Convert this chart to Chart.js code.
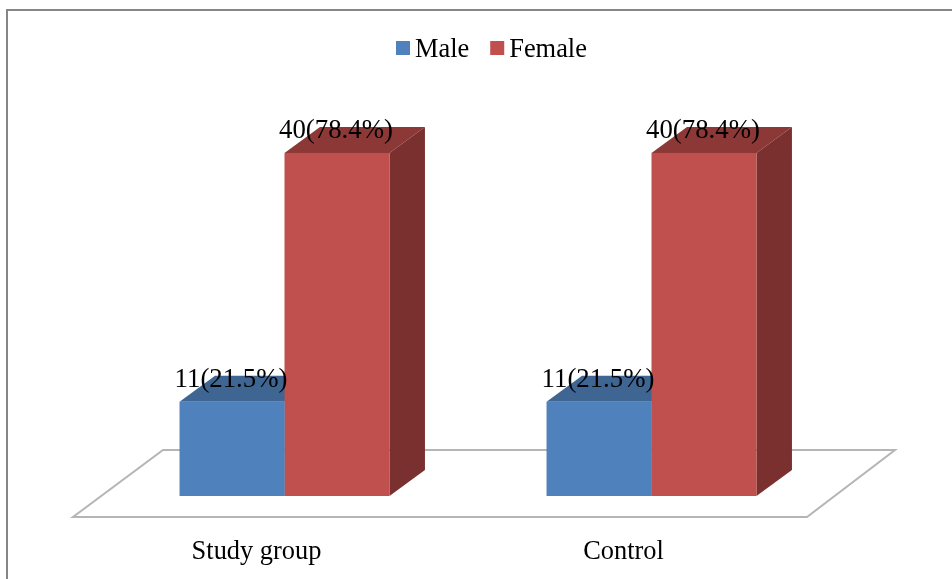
<!DOCTYPE html>
<html>
<head>
<meta charset="utf-8">
<title>Study group and control by sex</title>
<script src="https://cdn.jsdelivr.net/npm/chart.js@4"></script>
<style>
  html, body { margin: 0; padding: 0; background: #fff; }
  canvas { display: block; filter: blur(0.5px); }
</style>
</head>
<body>
<canvas id="chart" width="952" height="579"></canvas>
<script>
const categories = ['Study group', 'Control'];
const maleValues = [11, 11];
const femaleValues = [40, 40];
const malePercents = ['21.5', '21.5'];
const femalePercents = ['78.4', '78.4'];

const fontName = '"Liberation Serif", "Times New Roman", serif';
const depthX = 35.5;
const depthY = 26;

function face(ctx, points, color) {
  ctx.fillStyle = color;
  ctx.beginPath();
  points.forEach((p, i) => i ? ctx.lineTo(p[0], p[1]) : ctx.moveTo(p[0], p[1]));
  ctx.closePath();
  ctx.fill();
}

// the library has no 3D bars, so the top and side faces hang off each bar element
const bars3d = {
  id: 'bars3d',
  beforeDatasetsDraw(chart) {
    const ctx = chart.ctx;
    const area = chart.chartArea;
    const back = area.bottom - 46;
    const front = area.bottom + 21;

    ctx.save();
    ctx.strokeStyle = '#b5b5b5';
    ctx.lineWidth = 2;
    ctx.beginPath();
    ctx.moveTo(area.left - 28, front);
    ctx.lineTo(area.right - 28, front);
    ctx.lineTo(area.right + 60, back);
    ctx.lineTo(area.left + 62, back);
    ctx.closePath();
    ctx.stroke();

    chart.data.datasets.forEach((ds, i) => {
      chart.getDatasetMeta(i).data.forEach(bar => {
        const left = bar.x - bar.width / 2;
        const right = bar.x + bar.width / 2;
        face(ctx, [[left, bar.y], [right, bar.y], [right + depthX, bar.y - depthY], [left + depthX, bar.y - depthY]], ds.topColor);
        face(ctx, [[right, bar.y], [right + depthX, bar.y - depthY], [right + depthX, bar.base - depthY], [right, bar.base]], ds.sideColor);
      });
    });
    ctx.restore();
  },
  afterDatasetsDraw(chart) {
    const ctx = chart.ctx;
    ctx.save();
    ctx.font = '26.8px ' + fontName;
    ctx.fillStyle = '#000';
    ctx.textAlign = 'center';
    ctx.textBaseline = 'alphabetic';
    chart.data.datasets.forEach((ds, i) => {
      chart.getDatasetMeta(i).data.forEach((bar, j) => {
        ctx.fillText(ds.data[j] + '(' + ds.percents[j] + '%)', bar.x - 1, bar.y - 15);
      });
    });
    ctx.restore();
  }
};

// legend drawn here because the built-in one keeps half a font size between box and text
const tightLegend = {
  id: 'tightLegend',
  afterDraw(chart) {
    const ctx = chart.ctx;
    ctx.save();
    ctx.font = '26.4px ' + fontName;
    ctx.textBaseline = 'alphabetic';
    let x = 396;
    chart.data.datasets.forEach(ds => {
      ctx.fillStyle = ds.backgroundColor;
      ctx.fillRect(x, 41, 14, 14);
      ctx.fillStyle = '#000';
      ctx.fillText(ds.label, x + 19, 57);
      x += 19 + ctx.measureText(ds.label).width + 21;
    });
    ctx.restore();
  }
};

const frame = {
  id: 'frame',
  beforeDraw(chart) {
    const ctx = chart.ctx;
    ctx.save();
    ctx.strokeStyle = '#868686';
    ctx.lineWidth = 2;
    ctx.beginPath();
    ctx.moveTo(7, 579);
    ctx.lineTo(7, 10);
    ctx.lineTo(952, 10);
    ctx.stroke();
    ctx.restore();
  }
};

new Chart(document.getElementById('chart'), {
  type: 'bar',
  data: {
    labels: categories,
    datasets: [
      { label: 'Male', data: maleValues, percents: malePercents, backgroundColor: '#4f81bd', topColor: '#3f6592', sideColor: '#375a85' },
      { label: 'Female', data: femaleValues, percents: femalePercents, backgroundColor: '#c0504d', topColor: '#8c3836', sideColor: '#7a302e' }
    ]
  },
  options: {
    responsive: false,
    animation: false,
    layout: { padding: { left: 101, right: 117, top: 153, bottom: 12 } },
    plugins: { legend: { display: false }, tooltip: { enabled: false } },
    datasets: { bar: { barPercentage: 1, categoryPercentage: 0.572 } },
    scales: {
      x: {
        afterFit(scale) { scale.height = 71; },
        grid: { display: false, drawTicks: false },
        border: { display: false },
        ticks: {
          color: '#000',
          padding: 40,
          labelOffset: -28,
          maxRotation: 0,
          font: { family: fontName, size: 26.4 }
        }
      },
      y: { display: false, min: 0, max: 40 }
    }
  },
  plugins: [frame, bars3d, tightLegend]
});
</script>
</body>
</html>
